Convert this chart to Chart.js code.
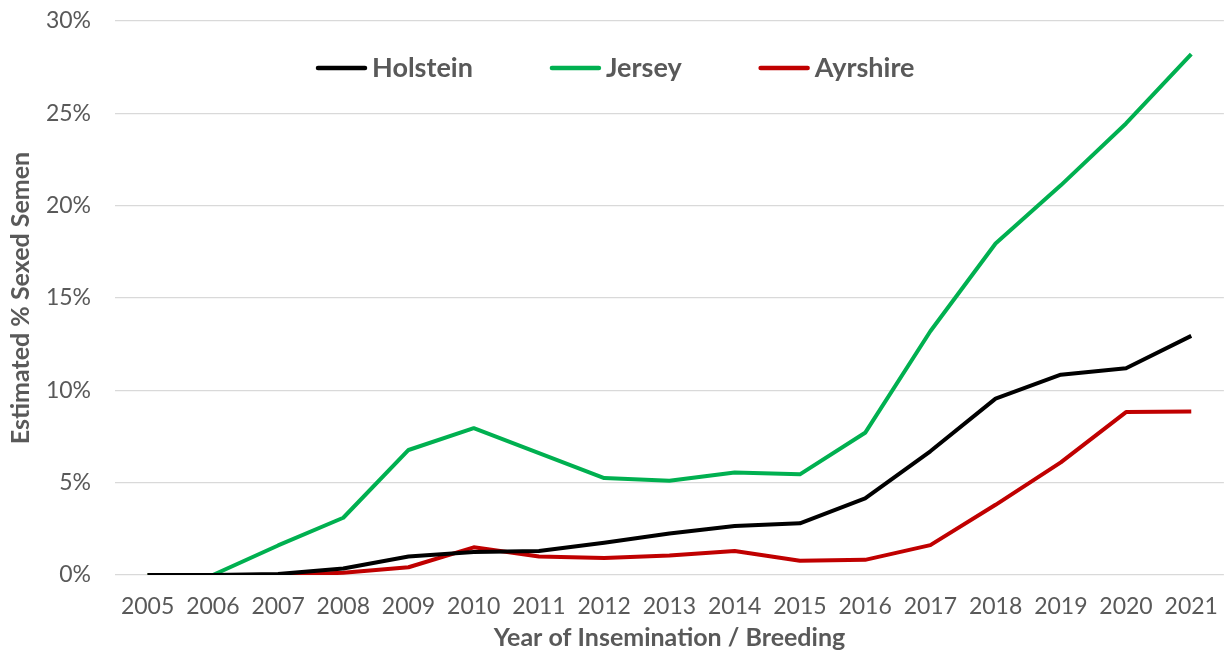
<!DOCTYPE html>
<html>
<head>
<meta charset="utf-8">
<script src="https://cdn.jsdelivr.net/npm/chart.js@4.4.1/dist/chart.umd.min.js"></script>
<style>
  html, body { margin: 0; padding: 0; background: #fff; }
  #wrap { width: 1228px; height: 655px; position: relative; }
</style>
</head>
<body>
<div id="wrap"><canvas id="semenChart"></canvas></div>
<script>
// Anos de inseminação
const years = ['2005', '2006', '2007', '2008', '2009', '2010', '2011', '2012', '2013',
               '2014', '2015', '2016', '2017', '2018', '2019', '2020', '2021'];

// % estimado de sêmen sexado por raça
const holstein = [0, 0, 0.05, 0.35, 1.0, 1.25, 1.3, 1.75, 2.25, 2.65, 2.8, 4.15, 6.7, 9.55, 10.85, 11.2, 12.95];
const jersey   = [0, 0, 1.6, 3.1, 6.77, 7.95, 6.6, 5.25, 5.1, 5.55, 5.45, 7.7, 13.2, 17.95, 21.1, 24.45, 28.2];
const ayrshire = [0, 0, 0, 0.12, 0.42, 1.5, 1.0, 0.92, 1.05, 1.3, 0.77, 0.82, 1.62, 3.8, 6.1, 8.82, 8.85];

const yTicks = [0, 5, 10, 15, 20, 25, 30];

const FONT = 'Lato, "Open Sans", sans-serif';
const GREY = '#595959';

// Legenda desenhada dentro da área do gráfico, como no original
const innerLegend = {
    id: 'innerLegend',
    afterDraw(chart) {
        const c = chart.ctx;
        const area = chart.chartArea;
        let x = area.left + 203;
        const y = 68;
        c.save();
        c.font = 'bold 27px ' + FONT;
        c.textBaseline = 'middle';
        chart.data.datasets.forEach(ds => {
            c.strokeStyle = ds.borderColor;
            c.lineWidth = 4.5;
            c.lineCap = 'round';
            c.beginPath();
            c.moveTo(x, y);
            c.lineTo(x + 47, y);
            c.stroke();
            x += 54;
            c.fillStyle = GREY;
            c.fillText(ds.label, x, y);
            x += c.measureText(ds.label).width + 79;
        });
        c.restore();
    }
};

const ctx = document.getElementById('semenChart').getContext('2d');
const semenChart = new Chart(ctx, {
    type: 'line',
    data: {
        labels: years,
        datasets: [
            { label: 'Holstein', data: holstein, borderColor: '#000000' },
            { label: 'Jersey',   data: jersey,   borderColor: '#00b050' },
            { label: 'Ayrshire', data: ayrshire, borderColor: '#c00000' }
        ]
    },
    options: {
        responsive: true,
        maintainAspectRatio: false,
        animation: false,
        layout: { padding: { top: 21, right: 2, left: 0, bottom: 0 } },
        elements: {
            line: { borderWidth: 4, tension: 0, fill: false, borderJoinStyle: 'round' },
            point: { radius: 0 }
        },
        plugins: {
            legend: { display: false },
            tooltip: { enabled: false }
        },
        scales: {
            x: {
                offset: true,
                grid: { display: false },
                border: { display: false },
                ticks: { color: GREY, font: { family: FONT, size: 23 }, padding: 10, maxRotation: 0, autoSkip: false },
                title: {
                    display: true,
                    text: 'Year of Insemination / Breeding',
                    color: GREY,
                    font: { family: FONT, size: 25, weight: 'bold' },
                    padding: { top: 0, bottom: 2 }
                },
                afterFit(scale) { scale.height = 80; }
            },
            y: {
                min: 0,
                max: 30,
                afterBuildTicks(scale) { scale.ticks = yTicks.map(v => ({ value: v })); },
                grid: { color: '#d9d9d9', lineWidth: 1.3, drawTicks: false },
                border: { display: false },
                ticks: {
                    color: GREY,
                    font: { family: FONT, size: 23 },
                    padding: 24,
                    callback: v => v + '%'
                },
                title: {
                    display: true,
                    text: 'Estimated % Sexed Semen',
                    color: GREY,
                    font: { family: FONT, size: 25, weight: 'bold' },
                    padding: { top: 6, bottom: 0 }
                },
                afterFit(scale) {
                    scale.width = 115;
                    scale.paddingTop = 0;
                    scale.paddingBottom = 0;
                }
            }
        }
    },
    plugins: [innerLegend]
});
</script>
</body>
</html>
